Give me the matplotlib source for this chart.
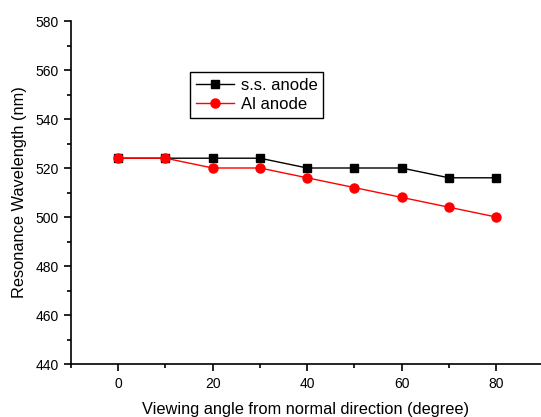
import matplotlib
matplotlib.use('Agg')
import matplotlib.pyplot as plt
from matplotlib.ticker import MultipleLocator

plt.rcParams['font.family'] = ['Liberation Sans', 'DejaVu Sans']

angles = [0, 10, 20, 30, 40, 50, 60, 70, 80]
ss_anode = [524, 524, 524, 524, 520, 520, 520, 516, 516]
al_anode = [524, 524, 520, 520, 516, 512, 508, 504, 500]

fig = plt.figure(figsize=(5.41, 4.17), dpi=100)
ax = fig.add_axes([71 / 541, 53 / 417, 470 / 541, 343 / 417])

ax.plot(angles, ss_anode, color='black', lw=1, marker='s', ms=6, label='s.s. anode')
ax.plot(angles, al_anode, color='red', lw=1, marker='o', ms=6.5, label='Al anode')

ax.set_xlim(-10, 89.5)
ax.set_ylim(440, 580)
ax.xaxis.set_major_locator(MultipleLocator(20))
ax.xaxis.set_minor_locator(MultipleLocator(10))
ax.yaxis.set_major_locator(MultipleLocator(20))
ax.yaxis.set_minor_locator(MultipleLocator(10))

for side in ['top', 'right']:
    ax.spines[side].set_visible(False)
for side in ['left', 'bottom']:
    ax.spines[side].set_linewidth(1.2)

ax.tick_params(which='major', direction='out', length=5, width=1.2, labelsize=10, pad=4)
ax.tick_params(which='minor', direction='out', length=3, width=1.2)

ax.set_xlabel('Viewing angle from normal direction (degree)', fontsize=11.8, labelpad=8)
ax.set_ylabel('Resonance Wavelength (nm)', fontsize=11.8, labelpad=6)

leg = ax.legend(loc='upper left', bbox_to_anchor=(0.253, 0.852), fontsize=12,
                handlelength=2.3, fancybox=False, framealpha=1, edgecolor='black',
                borderpad=0.35, labelspacing=0.25, handletextpad=0.4, borderaxespad=0)
leg.get_frame().set_linewidth(1)

fig.savefig('out.png', dpi=100)
